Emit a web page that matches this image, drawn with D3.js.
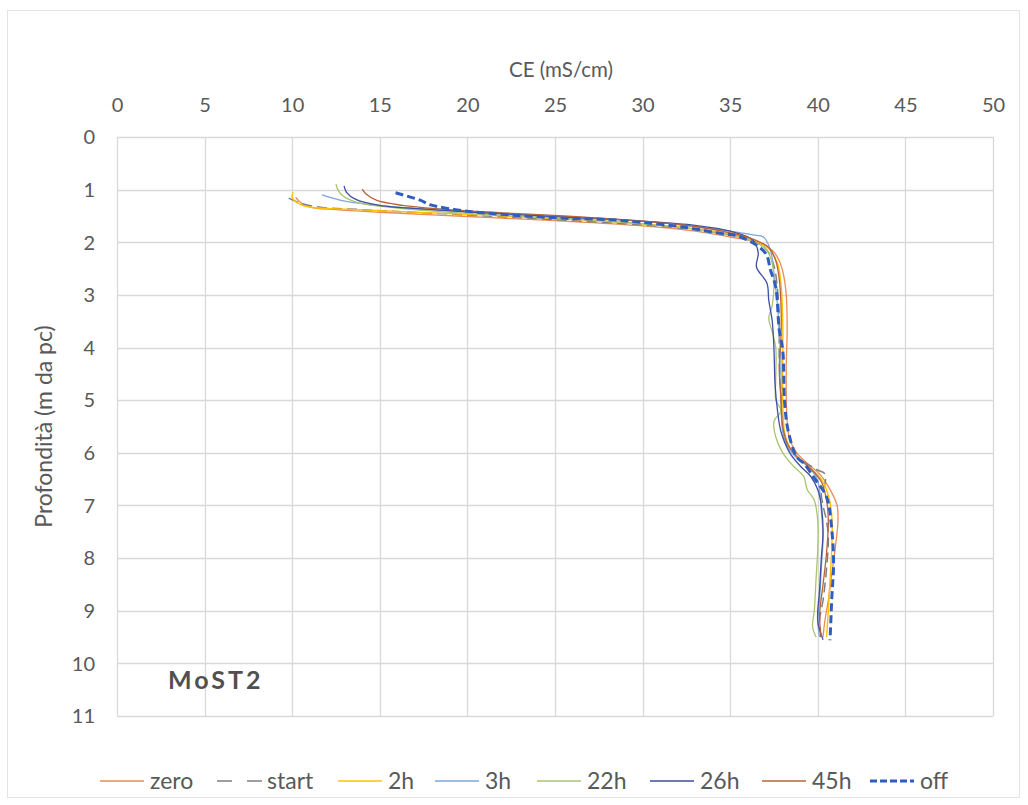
<!DOCTYPE html>
<html>
<head>
<meta charset="utf-8">
<script src="https://cdn.jsdelivr.net/npm/d3@7"></script>
<style>
  html, body { margin: 0; padding: 0; background: #fff; }
  svg { display: block; }
  text { font-family: Lato, "Open Sans", sans-serif; fill: #595959; }
</style>
</head>
<body>
<svg id="chart" width="1028" height="805"></svg>
<script>
// Conductivity profiles, CE (mS/cm) against depth (m below ground level)
const xTicks = [0, 5, 10, 15, 20, 25, 30, 35, 40, 45, 50];
const yTicks = [0, 1, 2, 3, 4, 5, 6, 7, 8, 9, 10, 11];

const zero = [[10.2,1.15],[10.5,1.25],[11.0,1.33],[12.5,1.38],[15,1.43],[20,1.51],[25,1.59],[30,1.69],[33,1.79],[35,1.9],[36.5,2.0],[37.4,2.15],[37.8,2.35],[38.0,2.55],[38.2,3.0],[38.25,3.7],[38.2,4.3],[38.2,4.9],[38.25,5.4],[38.4,5.75],[38.8,6.0],[39.4,6.2],[40.1,6.4],[40.7,6.7],[41.1,7.0],[41.15,7.3],[41.0,7.8],[40.8,8.3],[40.6,8.8],[40.4,9.2],[40.3,9.5]];
const start = [[9.8,1.16],[10.5,1.26],[11.5,1.33],[14,1.38],[20,1.48],[25,1.57],[30,1.67],[33,1.76],[35,1.86],[36.3,1.97],[37.1,2.15],[37.5,2.45],[37.7,2.9],[37.8,3.5],[37.8,4.2],[37.9,4.9],[38.0,5.5],[38.3,5.85],[38.9,6.1],[39.6,6.25],[40.0,6.33],[40.4,6.4],[40.4,6.6],[40.2,6.75],[40.3,7.0],[40.5,7.3],[40.6,7.6],[40.5,8.2],[40.3,8.8],[40.1,9.2],[40.2,9.55]];
const h2 = [[10.05,1.05],[10.0,1.15],[10.3,1.25],[11.0,1.33],[13,1.37],[20,1.47],[25,1.55],[30,1.65],[33,1.74],[35,1.84],[36.3,1.95],[37.2,2.12],[37.7,2.4],[37.9,2.8],[38.0,3.5],[38.0,4.2],[38.0,5.0],[38.1,5.6],[38.4,5.9],[38.9,6.1],[39.6,6.3],[40.2,6.5],[40.6,6.8],[40.8,7.2],[40.8,7.8],[40.7,8.4],[40.6,9.0],[40.5,9.5]];
const h3 = [[11.7,1.1],[13,1.22],[15.5,1.32],[20,1.42],[25,1.5],[30,1.6],[33,1.7],[35,1.79],[36.3,1.86],[36.9,1.9],[37.3,2.15],[37.5,2.6],[37.7,3.2],[37.8,3.7],[37.9,4.3],[37.9,5.0],[38.0,5.6],[38.3,5.9],[38.8,6.1],[39.4,6.25],[39.9,6.45],[40.1,6.7],[40.2,7.1],[40.3,7.6],[40.2,8.2],[40.1,8.8],[40.0,9.2],[40.1,9.5]];
const h22 = [[12.5,0.89],[12.6,1.0],[12.9,1.12],[13.8,1.25],[16,1.35],[20,1.45],[25,1.54],[30,1.65],[33,1.75],[35,1.86],[36.3,1.98],[37.1,2.15],[37.4,2.4],[37.5,2.8],[37.4,3.2],[37.2,3.45],[37.4,3.7],[37.6,4.0],[37.6,4.6],[37.6,5.0],[37.9,5.2],[37.5,5.4],[37.6,5.7],[38.0,6.0],[38.6,6.25],[39.2,6.45],[39.4,6.7],[39.8,6.9],[40.0,7.3],[40.0,7.8],[39.9,8.4],[39.8,9.0],[39.7,9.3],[39.9,9.5]];
const h26 = [[12.96,0.93],[13.1,1.05],[13.6,1.18],[15,1.3],[18,1.38],[22,1.46],[26,1.53],[30,1.6],[33,1.68],[35,1.79],[36.3,1.96],[36.6,2.2],[36.5,2.47],[37.1,2.78],[37.2,3.1],[37.4,3.5],[37.5,4.05],[37.56,4.7],[37.7,5.2],[37.9,5.6],[38.4,6.0],[39.0,6.25],[39.6,6.45],[40.0,6.7],[40.2,7.0],[40.3,7.5],[40.2,8.0],[40.1,8.6],[40.0,9.2],[40.3,9.55]];
const h45 = [[14.0,0.99],[14.2,1.08],[14.8,1.2],[16.3,1.3],[18.5,1.37],[22,1.44],[26,1.51],[30,1.6],[33,1.7],[35,1.82],[36.3,1.94],[37.2,2.1],[37.6,2.35],[37.8,2.7],[37.9,3.2],[37.9,3.8],[37.8,4.4],[37.9,5.0],[38.0,5.5],[38.3,5.85],[38.9,6.1],[39.6,6.3],[40.2,6.55],[40.5,6.9],[40.6,7.3],[40.5,7.9],[40.3,8.5],[40.1,9.1],[40.2,9.5]];
const off = [[15.9,1.06],[17.3,1.2],[17.9,1.29],[20.0,1.41],[22.4,1.48],[25.3,1.54],[28.1,1.57],[29.9,1.62],[32.3,1.71],[34.4,1.83],[35.6,1.9],[37.0,2.2],[37.3,2.53],[37.6,2.85],[37.8,3.67],[38.0,4.05],[38.1,5.0],[38.3,5.57],[38.8,6.08],[39.2,6.2],[39.8,6.48],[40.5,6.84],[40.8,7.47],[40.9,8.1],[40.8,8.75],[40.7,9.56]];

const seriesNames = ["zero", "start", "2h", "3h", "22h", "26h", "45h", "off"];
const seriesData = [zero, start, h2, h3, h22, h26, h45, off];
const seriesColors = ["#ED8B55", "#7F7F7F", "#FFC000", "#7FA7DB", "#A9C46C", "#3F4F9F", "#B8643A", "#2F5EBE"];
const seriesWidths = [1.3, 1.5, 1.4, 1.3, 1.3, 1.3, 1.3, 3];
const seriesDash = [null, "10,5", null, null, null, null, null, "8,4"];

const svg = d3.select("#chart");

// outer chart frame
svg.append("rect")
  .attr("x", 7.5).attr("y", 10.5).attr("width", 1012).attr("height", 787)
  .attr("fill", "#fff").attr("stroke", "#E3E3E3");

const plot = { left: 117, right: 993, top: 137, bottom: 716 };
const x = d3.scaleLinear().domain([0, 50]).range([plot.left, plot.right]);
const y = d3.scaleLinear().domain([0, 11]).range([plot.top, plot.bottom]);

// gridlines
const grid = svg.append("g").attr("stroke", "#D9D9D9").attr("stroke-width", 1.3);
grid.selectAll("line.v").data(xTicks).join("line")
  .attr("x1", d => Math.round(x(d)) + 0.5).attr("x2", d => Math.round(x(d)) + 0.5)
  .attr("y1", plot.top).attr("y2", plot.bottom);
grid.selectAll("line.h").data(yTicks).join("line")
  .attr("y1", d => Math.round(y(d)) + 0.5).attr("y2", d => Math.round(y(d)) + 0.5)
  .attr("x1", plot.left).attr("x2", plot.right);

// axes (labels only, Excel style)
const xAxis = svg.append("g").attr("transform", `translate(0,${plot.top - 25})`)
  .call(d3.axisTop(x).tickValues(xTicks).tickSize(0).tickPadding(0));
const yAxis = svg.append("g").attr("transform", `translate(${plot.left - 22},0)`)
  .call(d3.axisLeft(y).tickValues(yTicks).tickSize(0).tickPadding(0));
[xAxis, yAxis].forEach(a => {
  a.select(".domain").remove();
  a.selectAll("text").style("font-size", "20px").style("font-family", "Lato, 'Open Sans', sans-serif").attr("fill", "#595959");
});
yAxis.selectAll("text").attr("dy", "0.34em");

svg.append("text").attr("x", 561).attr("y", 77)
  .attr("text-anchor", "middle").style("font-size", "20.5px").text("CE (mS/cm)");
svg.append("text").attr("transform", `translate(52,${(plot.top + plot.bottom) / 2}) rotate(-90)`)
  .attr("text-anchor", "middle").style("font-size", "23px").text("Profondità (m da pc)");

svg.append("text").attr("x", 168).attr("y", 689)
  .style("font-size", "25px").style("font-weight", "bold").style("letter-spacing", "3px")
  .style("fill", "#505050").text("MoST2");

// profiles
const line = d3.line().x(d => x(d[0])).y(d => y(d[1])).curve(d3.curveCatmullRom.alpha(0.5));
const g = svg.append("g");
seriesData.forEach((s, i) => {
  g.append("path").datum(s)
    .attr("d", line)
    .attr("fill", "none")
    .attr("stroke", seriesColors[i])
    .attr("stroke-width", seriesWidths[i])
    .attr("stroke-dasharray", seriesDash[i])
    .attr("stroke-linejoin", "round");
});

// legend
const legendX = [100, 217, 338, 435, 537, 650, 762, 870];
const lg = svg.append("g");
seriesNames.forEach((n, i) => {
  lg.append("line")
    .attr("x1", legendX[i]).attr("x2", legendX[i] + (i === 1 ? 47 : 44))
    .attr("y1", 781).attr("y2", 781)
    .attr("stroke", seriesColors[i])
    .attr("stroke-width", i === 7 ? 3 : 1.5)
    .attr("stroke-dasharray", i === 1 ? "15,15" : (i === 7 ? "7,3" : null));
  lg.append("text").attr("x", legendX[i] + 50).attr("y", 789)
    .style("font-size", "23px").text(n);
});
</script>
</body>
</html>
